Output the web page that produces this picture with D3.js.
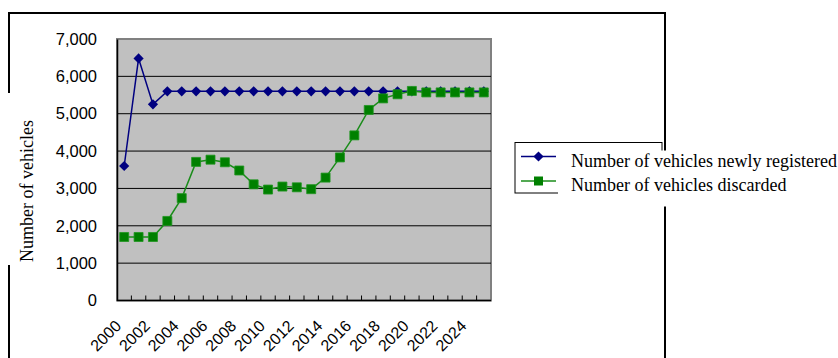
<!DOCTYPE html>
<html>
<head>
<meta charset="utf-8">
<script src="https://cdn.jsdelivr.net/npm/d3@7/dist/d3.min.js"></script>
<style>
  html, body { margin: 0; padding: 0; background: #fff; }
  svg { display: block; }
</style>
</head>
<body>
<svg id="chart" width="838" height="358"></svg>
<script>
// Yearly categories on the x axis
const years = [2000, 2001, 2002, 2003, 2004, 2005, 2006, 2007, 2008, 2009,
               2010, 2011, 2012, 2013, 2014, 2015, 2016, 2017, 2018, 2019,
               2020, 2021, 2022, 2023, 2024, 2025];

// Vehicles newly registered per year
const registered = [3600, 6480, 5250, 5600, 5600, 5600, 5600, 5600, 5600, 5600,
                    5600, 5600, 5600, 5600, 5600, 5600, 5600, 5600, 5600, 5600,
                    5600, 5600, 5600, 5600, 5600, 5600];

// Vehicles discarded per year
const discarded = [1700, 1700, 1700, 2130, 2740, 3710, 3770, 3700, 3480, 3110,
                   2970, 3050, 3030, 2980, 3290, 3830, 4420, 5100, 5410, 5520,
                   5610, 5570, 5570, 5570, 5570, 5570];

// Axis labels
const yTicks = [0, 1000, 2000, 3000, 4000, 5000, 6000, 7000];
const xTickLabels = [2000, 2002, 2004, 2006, 2008, 2010, 2012, 2014, 2016, 2018, 2020, 2022, 2024];

const seriesNames = ["Number of vehicles newly registered", "Number of vehicles discarded"];
const yTitle = "Number of vehicles";

const svg = d3.select("#chart");

const plot = { left: 117, right: 491, top: 39, bottom: 300.5 };

const x = d3.scaleBand().domain(years).range([plot.left, plot.right]).padding(0);
const y = d3.scaleLinear().domain([0, 7000]).range([plot.bottom, plot.top]);
const cx = d => x(d) + x.bandwidth() / 2;

const BLUE = "#000080";
const GREEN = "#008000";
const SANS = "'Liberation Sans', Arial, sans-serif";
const SERIF = "'Liberation Serif', 'Times New Roman', serif";

// Outer chart frame
svg.append("rect")
  .attr("x", 9).attr("y", 13).attr("width", 656).attr("height", 400)
  .attr("fill", "none").attr("stroke", "#000").attr("stroke-width", 2);

// Plot area background
svg.append("rect")
  .attr("x", plot.left).attr("y", plot.top)
  .attr("width", plot.right - plot.left).attr("height", plot.bottom - plot.top)
  .attr("fill", "#c0c0c0").attr("stroke", "#808080").attr("stroke-width", 2);

// Horizontal gridlines
svg.append("g").selectAll("line")
  .data(yTicks.filter(v => v > 0 && v < 7000))
  .join("line")
  .attr("x1", plot.left).attr("x2", plot.right)
  .attr("y1", d => y(d)).attr("y2", d => y(d))
  .attr("stroke", "#000").attr("stroke-width", 1);

// Y axis labels
const yAxis = svg.append("g")
  .attr("transform", `translate(${plot.left},0)`)
  .call(d3.axisLeft(y).tickValues(yTicks).tickFormat(d3.format(",")).tickSize(0).tickPadding(20));
yAxis.select(".domain").attr("stroke", "#000").attr("stroke-width", 1.5);
yAxis.selectAll("text")
  .attr("font-family", SANS).attr("font-size", 16.5).attr("fill", "#000");

// X axis line and inward ticks on category boundaries
svg.append("line")
  .attr("x1", plot.left).attr("x2", plot.right)
  .attr("y1", plot.bottom).attr("y2", plot.bottom)
  .attr("stroke", "#000").attr("stroke-width", 1.5);
svg.append("g").selectAll("line")
  .data(years.slice(1))
  .join("line")
  .attr("x1", d => x(d)).attr("x2", d => x(d))
  .attr("y1", plot.bottom).attr("y2", plot.bottom - 5)
  .attr("stroke", "#000").attr("stroke-width", 1);

// X axis labels, rotated
svg.append("g").selectAll("text")
  .data(xTickLabels)
  .join("text")
  .attr("transform", d => `translate(${cx(d) - 2},327) rotate(-45)`)
  .attr("text-anchor", "end")
  .attr("font-family", SANS).attr("font-size", 16).attr("fill", "#000")
  .text(d => d);

// Series lines and markers
const line = d3.line().x((d, i) => cx(years[i])).y(d => y(d));

const diamond = d3.symbol(d3.symbolSquare, 52)();
const square = d3.symbol(d3.symbolSquare, 81)();

svg.append("path").datum(registered)
  .attr("d", line).attr("fill", "none").attr("stroke", BLUE).attr("stroke-width", 1.5);
svg.append("g").selectAll("path")
  .data(registered)
  .join("path")
  .attr("d", diamond)
  .attr("transform", (d, i) => `translate(${cx(years[i])},${y(d)}) rotate(45)`)
  .attr("fill", BLUE);

svg.append("path").datum(discarded)
  .attr("d", line).attr("fill", "none").attr("stroke", "#1a8c1a").attr("stroke-width", 1.5);
svg.append("g").selectAll("path")
  .data(discarded)
  .join("path")
  .attr("d", square)
  .attr("transform", (d, i) => `translate(${cx(years[i])},${y(d)})`)
  .attr("fill", GREEN).attr("stroke", "#1f961f").attr("stroke-width", 0.8);

// Y axis title with its white backing
svg.append("rect")
  .attr("x", 0).attr("y", 93).attr("width", 42).attr("height", 172)
  .attr("fill", "#fff");
svg.append("text")
  .attr("transform", "translate(33,191) rotate(-90)")
  .attr("text-anchor", "middle")
  .attr("font-family", SERIF).attr("font-size", 18).attr("fill", "#000")
  .text(yTitle);

// Legend box
const lg = { x: 515, y: 142.5, w: 147, h: 50.5 };
svg.append("rect")
  .attr("x", lg.x).attr("y", lg.y).attr("width", lg.w).attr("height", lg.h)
  .attr("fill", "#fff").attr("stroke", "#000").attr("stroke-width", 1);

// White backing behind the legend labels
svg.append("rect")
  .attr("x", 558).attr("y", 150.5).attr("width", 280).attr("height", 56)
  .attr("fill", "#fff");

const rows = [156.5, 181];
const legendMarks = [
  { color: BLUE, stroke: BLUE, shape: diamond, rot: 45 },
  { color: GREEN, stroke: "#1a8c1a", shape: square, rot: 0 }
];
rows.forEach((ry, i) => {
  svg.append("line")
    .attr("x1", 521).attr("x2", 556).attr("y1", ry).attr("y2", ry)
    .attr("stroke", legendMarks[i].stroke).attr("stroke-width", 1.5);
  svg.append("path")
    .attr("d", legendMarks[i].shape)
    .attr("transform", `translate(538.5,${ry}) rotate(${legendMarks[i].rot})`)
    .attr("fill", legendMarks[i].color);
  svg.append("text")
    .attr("x", 571).attr("y", ry + 10)
    .attr("font-family", SERIF).attr("font-size", 18).attr("fill", "#000")
    .text(seriesNames[i]);
});
</script>
</body>
</html>
